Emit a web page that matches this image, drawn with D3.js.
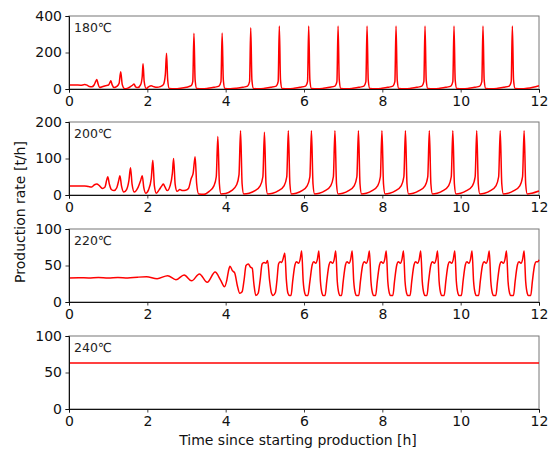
<!DOCTYPE html>
<html>
<head>
<meta charset="utf-8">
<script src="https://cdn.jsdelivr.net/npm/d3@7/dist/d3.min.js"></script>
<style>
  html, body { margin: 0; padding: 0; background: #fff; }
  svg { display: block; font-family: "DejaVu Sans", sans-serif; }
</style>
</head>
<body>
<svg id="chart" width="553" height="450"></svg>
<script>
// Production rate [t/h] against time [h] for four reactor temperatures.
const panelLabels = ["180\u2103", "200\u2103", "220\u2103", "240\u2103"];
const yMaxima = [400, 200, 100, 100];
const yTickValues = [[0, 200, 400], [0, 100, 200], [0, 50, 100], [0, 50, 100]];
const xTickValues = [0, 2, 4, 6, 8, 10, 12];

// 180 °C: relaxation spikes that grow and settle to ~345 t/h
const rate180 = [
  [0,22],[0.15,22],[0.3,21],[0.4,24],[0.46,21],[0.52,14],[0.58,12],[0.64,22],[0.68,40],[0.71,52],
  [0.74,30],[0.78,8],[0.85,12],[0.93,18],[1.01,22],[1.05,38],[1.07,45],[1.1,24],[1.15,8],[1.22,14],
  [1.28,32],[1.32,95],[1.36,24],[1.42,2],[1.5,5],[1.58,15],[1.63,22],[1.66,28],[1.7,12],[1.76,8],
  [1.83,24],[1.87,70],[1.89,138],[1.92,40],[1.97,2],[2.03,12],[2.1,18],[2.17,12],[2.25,9],[2.33,13],
  [2.41,24],[2.46,80],[2.49,196],[2.52,50],[2.56,3],[2.7,1],[2.85,4],[3.0,10],[3.12,18],[3.16,40],
  [3.19,305],[3.22,50],[3.26,3],[3.4,1],[3.55,4],[3.7,9],[3.83,16],[3.88,40],[3.91,307],[3.94,50],
  [3.98,3],[4.12,1],[4.28,4],[4.43,9],[4.56,16],[4.61,40],[4.64,336],[4.67,50],[4.71,3],[4.85,1],
  [5.0,4],[5.15,9],[5.29,16],[5.34,40],[5.37,345],[5.4,50],[5.44,3],[5.6,1],[5.75,4],[5.9,9],
  [6.04,16],[6.09,40],[6.12,345],[6.15,50],[6.19,3],[6.35,1],[6.5,4],[6.65,9],[6.79,16],[6.84,40],
  [6.87,345],[6.9,50],[6.94,3],[7.1,1],[7.25,4],[7.4,9],[7.53,16],[7.58,40],[7.61,345],[7.64,50],
  [7.68,3],[7.84,1],[7.99,4],[8.14,9],[8.27,16],[8.32,40],[8.35,345],[8.38,50],[8.42,3],[8.58,1],
  [8.73,4],[8.88,9],[9.01,16],[9.06,40],[9.09,345],[9.12,50],[9.16,3],[9.32,1],[9.47,4],[9.62,9],
  [9.75,16],[9.8,40],[9.83,345],[9.86,50],[9.9,3],[10.06,1],[10.21,4],[10.36,9],[10.49,16],[10.54,40],
  [10.57,345],[10.6,50],[10.64,3],[10.8,1],[10.95,4],[11.1,9],[11.24,16],[11.29,40],[11.32,345],[11.35,50],
  [11.39,3],[11.55,1],[11.7,4],[11.85,10],[12,18]
];

// 200 °C: faster spikes, period ~0.6 h, settling near 176 t/h
const rate200 = [
  [0,25],[0.2,25],[0.4,25],[0.5,23],[0.58,22],[0.65,28],[0.71,30],[0.78,25],[0.85,18],[0.92,22],
  [0.96,40],[0.99,50],[1.03,30],[1.08,15],[1.15,12],[1.22,20],[1.27,40],[1.3,53],[1.34,25],[1.4,8],
  [1.47,15],[1.53,40],[1.57,75],[1.61,30],[1.67,8],[1.75,18],[1.83,40],[1.87,53],[1.91,20],[1.96,5],
  [2.03,14],[2.1,45],[2.14,95],[2.18,25],[2.23,5],[2.3,14],[2.37,25],[2.41,30],[2.45,22],[2.51,12],
  [2.58,25],[2.64,60],[2.67,100],[2.71,30],[2.76,10],[2.83,15],[2.9,12],[2.98,13],[3.05,18],[3.12,45],
  [3.17,60],[3.22,105],[3.26,30],[3.31,3],[3.45,2],[3.58,10],[3.7,25],[3.76,50],[3.8,160],[3.84,30],
  [3.88,3],[4.0,4],[4.15,12],[4.28,28],[4.34,55],[4.38,176],[4.42,30],[4.46,3],[4.6,5],[4.75,12],
  [4.88,25],[4.95,50],[4.99,172],[5.03,30],[5.07,3],[5.2,5],[5.35,12],[5.49,25],[5.56,50],[5.6,176],
  [5.64,30],[5.68,3],[5.8,5],[5.95,12],[6.08,25],[6.15,50],[6.19,176],[6.23,30],[6.27,3],[6.39,5],
  [6.54,12],[6.68,25],[6.75,50],[6.79,176],[6.83,30],[6.87,3],[6.99,5],[7.14,12],[7.28,25],[7.35,50],
  [7.39,176],[7.43,30],[7.47,3],[7.59,5],[7.74,12],[7.88,25],[7.95,50],[7.99,176],[8.03,30],[8.07,3],
  [8.19,5],[8.34,12],[8.48,25],[8.55,50],[8.59,176],[8.63,30],[8.67,3],[8.79,5],[8.94,12],[9.09,25],
  [9.16,50],[9.2,176],[9.24,30],[9.28,3],[9.4,5],[9.55,12],[9.69,25],[9.76,50],[9.8,176],[9.84,30],
  [9.88,3],[10.0,5],[10.15,12],[10.3,25],[10.37,50],[10.41,176],[10.45,30],[10.49,3],[10.61,5],[10.76,12],
  [10.9,25],[10.97,50],[11.01,176],[11.05,30],[11.09,3],[11.21,5],[11.36,12],[11.51,25],[11.58,50],[11.62,176],
  [11.66,30],[11.7,3],[11.82,5],[12,11]
];

// 220 °C: a slowly growing oscillation that locks into a ~0.435 h cycle
const rate220 = [
  [0,33],[0.25,33.3],[0.5,33],[0.75,33.5],[1.0,33],[1.25,33.6],[1.5,33],[1.75,34],[1.98,34.5],[2.25,32],
  [2.52,36],[2.73,30.5],[2.94,37],[3.13,29],[3.33,38.5],[3.53,27],[3.73,41],[3.87,30],[3.97,21],[4.03,30],
  [4.07,42],[4.11,49],[4.17,43],[4.23,40],[4.3,22],[4.36,12],[4.42,14],[4.47,30],[4.52,50],[4.58,52],
  [4.63,48],[4.68,46],[4.72,25],[4.77,9],[4.83,12],[4.88,30],[4.93,52],[4.98,54],[5.03,53],[5.07,57],
  [5.12,30],[5.17,12],[5.21,9],[5.27,13],[5.31,30],[5.35,52],[5.39,55],[5.43,54],[5.47,60],[5.51,67],
  [5.55,30],[5.59,12],[5.63,9],[5.67,9],[5.71,28],[5.77,51],[5.81,55],[5.86,53],[5.9,58],[5.94,70],
  [5.98,28],[6.02,12],[6.05,9],[6.1,9],[6.15,28],[6.21,51],[6.25,55],[6.3,53],[6.34,58],[6.38,70],
  [6.42,28],[6.46,12],[6.49,9],[6.54,9],[6.58,28],[6.64,51],[6.68,55],[6.73,53],[6.77,58],[6.81,70],
  [6.85,28],[6.89,12],[6.92,9],[6.96,9],[7.0,28],[7.06,51],[7.1,55],[7.15,53],[7.19,58],[7.23,70],
  [7.27,28],[7.31,12],[7.34,9],[7.4,9],[7.44,28],[7.5,51],[7.54,55],[7.59,53],[7.63,58],[7.67,70],
  [7.71,28],[7.75,12],[7.78,9],[7.83,9],[7.87,28],[7.93,51],[7.97,55],[8.02,53],[8.06,58],[8.1,70],
  [8.14,28],[8.18,12],[8.21,9],[8.27,9],[8.31,28],[8.37,51],[8.41,55],[8.46,53],[8.5,58],[8.54,70],
  [8.58,28],[8.62,12],[8.65,9],[8.71,9],[8.75,28],[8.81,51],[8.85,55],[8.9,53],[8.94,58],[8.98,70],
  [9.02,28],[9.06,12],[9.09,9],[9.14,9],[9.18,28],[9.24,51],[9.28,55],[9.33,53],[9.37,58],[9.41,70],
  [9.45,28],[9.49,12],[9.52,9],[9.58,9],[9.62,28],[9.68,51],[9.72,55],[9.77,53],[9.81,58],[9.85,70],
  [9.89,28],[9.93,12],[9.96,9],[10.02,9],[10.06,28],[10.12,51],[10.16,55],[10.21,53],[10.25,58],[10.29,70],
  [10.33,28],[10.37,12],[10.4,9],[10.46,9],[10.5,28],[10.56,51],[10.6,55],[10.65,53],[10.69,58],[10.73,70],
  [10.77,28],[10.81,12],[10.84,9],[10.9,9],[10.94,28],[11.0,51],[11.04,55],[11.09,53],[11.13,58],[11.17,70],
  [11.21,28],[11.25,12],[11.28,9],[11.35,9],[11.39,28],[11.45,51],[11.49,55],[11.54,53],[11.58,58],[11.62,70],
  [11.66,28],[11.7,12],[11.73,9],[11.79,9],[11.83,28],[11.89,51],[11.93,55],[11.97,55],[12,58]
];

// 240 °C: steady production
const rate240 = [[0,63],[12,63]];

const seriesList = [rate180, rate200, rate220, rate240];

const svg = d3.select("#chart");
const left = 69, right = 539;
const panelTops = [16, 122, 229, 336];
const panelHeight = 73;

const x = d3.scaleLinear().domain([0, 12]).range([left, right]);

seriesList.forEach((data, i) => {
  const top = panelTops[i];
  const y = d3.scaleLinear().domain([0, yMaxima[i]]).range([top + panelHeight, top]);
  const g = svg.append("g");

  // frame
  g.append("rect")
    .attr("x", left).attr("y", top)
    .attr("width", right - left).attr("height", panelHeight)
    .attr("fill", "none").attr("stroke", "#777").attr("stroke-width", 1);

  // data line
  g.append("path")
    .datum(data)
    .attr("fill", "none")
    .attr("stroke", "#ff0000")
    .attr("stroke-width", 1.5)
    .attr("stroke-linejoin", "round")
    .attr("d", d3.line().x(d => x(d[0])).y(d => y(d[1])).curve(d3.curveMonotoneX));

  // axes
  const xa = g.append("g")
    .attr("transform", `translate(0,${top + panelHeight})`)
    .call(d3.axisBottom(x).tickValues(xTickValues).tickFormat(d3.format("d")).tickSize(3.5).tickPadding(3.5));
  const ya = g.append("g")
    .attr("transform", `translate(${left},0)`)
    .call(d3.axisLeft(y).tickValues(yTickValues[i]).tickFormat(d3.format("d")).tickSize(3.5).tickPadding(3.5));
  [xa, ya].forEach(a => {
    a.selectAll("text").attr("font-size", 14).attr("font-family", "DejaVu Sans, sans-serif").attr("fill", "#111");
    a.selectAll("line").attr("stroke", "#111").attr("stroke-width", 0.8);
    a.select(".domain").attr("stroke", "#111").attr("stroke-width", 1);
  });

  // temperature label
  g.append("text")
    .attr("x", left + 5).attr("y", top + 16)
    .attr("font-size", 12.5)
    .attr("fill", "#222")
    .text(panelLabels[i]);
});

svg.append("text")
  .attr("transform", "translate(25,212) rotate(-90)")
  .attr("text-anchor", "middle")
  .attr("font-size", 14)
  .attr("fill", "#111")
  .text("Production rate [t/h]");

svg.append("text")
  .attr("x", 298).attr("y", 445)
  .attr("text-anchor", "middle")
  .attr("font-size", 14)
  .attr("fill", "#111")
  .text("Time since starting production [h]");
</script>
</body>
</html>
